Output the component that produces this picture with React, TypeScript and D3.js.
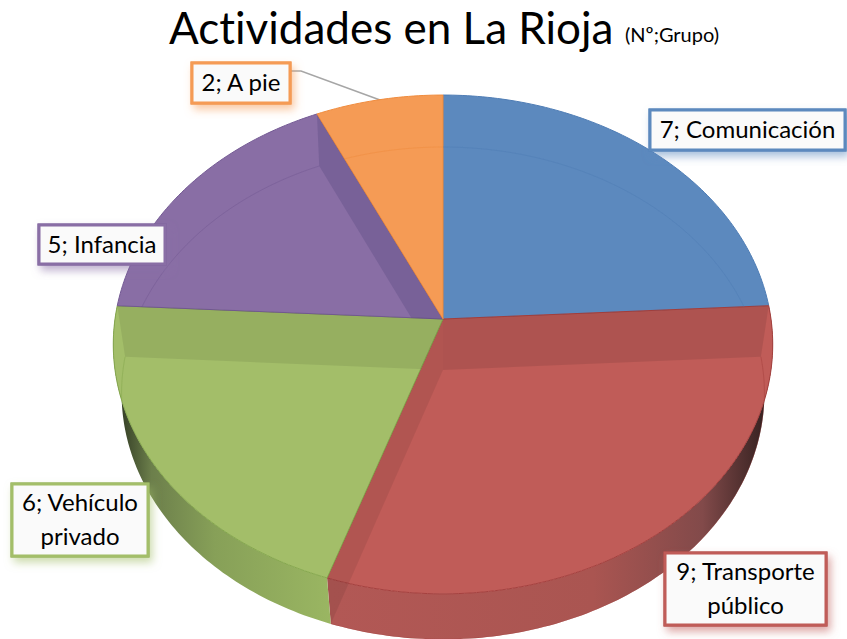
import React from "react";
import * as d3 from "d3";

const categories = ["Comunicación", "Transporte público", "Vehículo privado", "Infancia", "A pie"];
const values = [7, 9, 6, 5, 2];
const colors = ["#5C89BE", "#C05C58", "#A3BE69", "#896EA5", "#F59B55"];
const edgeColors = ["#4F7DB5", "#A5403E", "#86A84E", "#745A94", "#F08C3E"];
const labelLines = [["7; Comunicación"], ["9; Transporte", "público"], ["6; Vehículo", "privado"], ["5; Infancia"], ["2; A pie"]];
const labelBoxes = [
  { x: 650, y: 110, w: 195, h: 40 },
  { x: 665, y: 553, w: 161, h: 72 },
  { x: 12, y: 484, w: 136, h: 72 },
  { x: 39, y: 225, w: 126, h: 39 },
  { x: 192, y: 63, w: 98, h: 40 },
];
// inside walls that show through the translucent slices: index of the wall's start slice -> slice it tints
const wallShades = [
  { boundary: 1, slice: 1, fill: "#000", opacity: 0.09 },
  { boundary: 2, slice: 1, fill: "#000", opacity: 0.075 },
  { boundary: 3, slice: 2, fill: "#000", opacity: 0.08 },
  { boundary: 4, slice: 3, fill: "#1a1a50", opacity: 0.15 },
];

const topDisc = { cx: 443, cy: 319, a: 328, b: 246.8, k: 0.102 };
const bottomDisc = { cx: 443, cy: 370, a: 320, b: 244, k: 0.0942 };
type Disc = typeof topDisc;

const project = (d: Disc, t: number): [number, number] => {
  const u = Math.sin(t);
  const v = -Math.cos(t);
  const w = 1 - d.k * v;
  return [d.cx + (d.a * u) / w, d.cy + (d.b * v) / w];
};
const line = d3.line<[number, number]>();
const arcPts = (d: Disc, t0: number, t1: number): [number, number][] => {
  const n = Math.max(4, Math.ceil((t1 - t0) * 60));
  return d3.range(n + 1).map((i) => project(d, t0 + ((t1 - t0) * i) / n));
};

const arcs = d3.pie<number>().sort(null)(values);
const slicePath = (i: number) => {
  const a = arcs[i];
  return line([[topDisc.cx, topDisc.cy], ...arcPts(topDisc, a.startAngle, a.endAngle)])! + "Z";
};
const wallPath = (i: number) => {
  const a = arcs[i];
  return line([...arcPts(topDisc, a.startAngle, a.endAngle), ...arcPts(bottomDisc, a.startAngle, a.endAngle).reverse()])! + "Z";
};
const innerWall = (i: number) => {
  const t = arcs[i].startAngle;
  return line([[topDisc.cx, topDisc.cy], project(topDisc, t), project(bottomDisc, t), [bottomDisc.cx, bottomDisc.cy]])! + "Z";
};

const font = "Lato, Carlito, sans-serif";

export default function App() {
  return (
    <svg
      width={847}
      height={639}
      style={{ position: "absolute", left: 0, top: 0, background: "#fff", fontVariantLigatures: "none" }}
      fontFamily={font}
    >
      <defs>
        <linearGradient id="wall1" gradientUnits="userSpaceOnUse" x1={331} x2={768} y1={0} y2={0}>
          <stop offset="0" stopColor="#B25855" />
          <stop offset="0.6" stopColor="#AA5551" />
          <stop offset="0.85" stopColor="#824A4A" />
          <stop offset="1" stopColor="#33201F" />
        </linearGradient>
        <linearGradient id="wall2" gradientUnits="userSpaceOnUse" x1={120} x2={331} y1={0} y2={0}>
          <stop offset="0" stopColor="#333D25" />
          <stop offset="0.15" stopColor="#6C7F4B" />
          <stop offset="0.45" stopColor="#87A058" />
          <stop offset="1" stopColor="#9AB662" />
        </linearGradient>
        {values.map((_, i) => (
          <clipPath id={`face${i}`} key={i}>
            <path d={slicePath(i)} />
            {i === 1 && <path d={wallPath(i)} />}
          </clipPath>
        ))}
        {values.map((_, i) => (
          <filter id={`shadow${i}`} key={i} x="-20%" y="-30%" width="140%" height="170%">
            <feDropShadow dx={3} dy={5} stdDeviation={4} floodColor={colors[i]} floodOpacity={0.55} />
          </filter>
        ))}
      </defs>

      <text x={169} y={44} fontSize={44} fill="#000">Actividades en La Rioja</text>
      <text x={625} y={42} fontSize={20} fill="#000">(Nº;Grupo)</text>

      <path d="M290,71 L301,71 L380,100" fill="none" stroke="#A6A6A6" strokeWidth={1.5} />

      {[1, 2].map((i) => (
        <path key={i} d={wallPath(i)} fill={`url(#wall${i})`} />
      ))}

      {values.map((_, i) => (
        <path key={i} d={slicePath(i)} fill={colors[i]} stroke={edgeColors[i]} strokeWidth={1} strokeLinejoin="round" />
      ))}

      {wallShades.map((w, i) => (
        <path key={i} d={innerWall(w.boundary)} fill={w.fill} fillOpacity={w.opacity} clipPath={`url(#face${w.slice})`} />
      ))}

      {values.map((_, i) => (
        <path
          key={i}
          d={line(arcPts(bottomDisc, arcs[i].startAngle, arcs[i].endAngle))!}
          fill="none"
          stroke={edgeColors[i]}
          strokeOpacity={0.5}
          strokeWidth={1}
          clipPath={`url(#face${i})`}
        />
      ))}

      {categories.map((c, i) => {
        const b = labelBoxes[i];
        const ls = labelLines[i];
        const cx = b.x + b.w / 2;
        const lh = 34;
        const first = b.y + b.h / 2 - ((ls.length - 1) * lh) / 2 + 8;
        return (
          <g key={c}>
            <rect x={b.x} y={b.y} width={b.w} height={b.h} fill="#fff" stroke={edgeColors[i]} strokeWidth={3} filter={`url(#shadow${i})`} />
            <rect x={b.x} y={b.y} width={b.w} height={b.h} fill="#FAFAFA" fillOpacity={0.95} stroke={colors[i]} strokeWidth={3} />
            {ls.map((t, j) => (
              <text key={j} x={cx} y={first + j * lh} textAnchor="middle" fontSize={24} fill="#000">{t}</text>
            ))}
          </g>
        );
      })}
    </svg>
  );
}
